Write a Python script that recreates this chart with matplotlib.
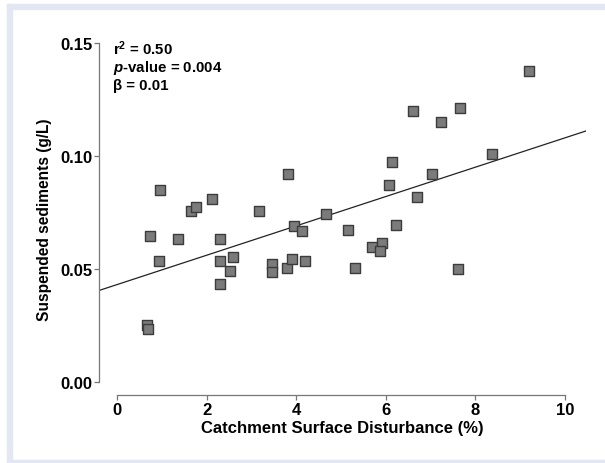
import matplotlib
matplotlib.use('Agg')
from matplotlib import pyplot as plt
from matplotlib.patches import Rectangle

# catchment surface disturbance (%) and suspended sediments (g/L)
disturbance = [9.20, 6.60, 7.66, 7.23, 8.37, 6.14, 3.82, 7.04, 6.08, 6.70,
               0.95, 2.12, 1.65, 1.77, 3.18, 4.66, 3.95, 4.13, 5.16, 6.22,
               0.74, 1.37, 2.31, 5.69, 5.91, 5.88, 0.93, 2.31, 2.59, 2.53,
               3.47, 3.47, 3.80, 3.90, 4.19, 5.32, 7.62, 2.31, 0.67, 0.69]
sediments = [0.1376, 0.1200, 0.1212, 0.1148, 0.1008, 0.0975, 0.0919, 0.0922, 0.0870, 0.0819,
             0.0848, 0.0811, 0.0754, 0.0774, 0.0754, 0.0743, 0.0690, 0.0667, 0.0671, 0.0695,
             0.0644, 0.0634, 0.0634, 0.0596, 0.0615, 0.0579, 0.0535, 0.0535, 0.0551, 0.0491,
             0.0520, 0.0486, 0.0504, 0.0542, 0.0535, 0.0504, 0.0500, 0.0432, 0.0251, 0.0232]

# fitted regression line
intercept = 0.0430
slope = 0.00650

x_ticks = [0, 2, 4, 6, 8, 10]
y_ticks = [0.00, 0.05, 0.10, 0.15]

plt.rcParams['font.family'] = ['Liberation Sans', 'DejaVu Sans']
plt.rcParams['mathtext.fontset'] = 'custom'
plt.rcParams['mathtext.rm'] = 'Liberation Sans:bold'
plt.rcParams['mathtext.it'] = 'Liberation Sans:bold:italic'
plt.rcParams['mathtext.bf'] = 'Liberation Sans:bold'

fig = plt.figure(figsize=(6.05, 4.64), dpi=100)
frame = '#e3e6f3'
fig.patches.append(Rectangle((7 / 605, 0), 5 / 605, 1 - 5 / 464, transform=fig.transFigure,
                             color=frame, zorder=0))
fig.patches.append(Rectangle((7 / 605, 1 - 10 / 464), 1, 5 / 464, transform=fig.transFigure,
                             color=frame, zorder=0))
fig.patches.append(Rectangle((7 / 605, 0), 1, 3 / 464, transform=fig.transFigure,
                             color=frame, zorder=0))

ax = fig.add_axes([99 / 605, 68 / 464, 487 / 605, (395 - 43) / 464])
xmin = -(117 - 99) / 44.8
xmax = xmin + 487 / 44.8
ax.set_xlim(xmin, xmax)
ax.set_ylim(-(395 - 381.7) / 2256, 0.15)

xs = [xmin, xmax]
ax.plot(xs, [intercept + slope * v for v in xs], color='#222222', lw=0.9, zorder=2)
ax.scatter(disturbance, sediments, marker='s', s=58, facecolor='#7b7b7b',
           edgecolor='#3c3c3c', linewidth=1.0, zorder=3, clip_on=False)

for side in ['top', 'right']:
    ax.spines[side].set_visible(False)
ax.spines['left'].set_bounds(0, 0.15)
ax.spines['bottom'].set_bounds(0, 10)
for side in ['left', 'bottom']:
    ax.spines[side].set_color('#777777')
    ax.spines[side].set_linewidth(0.9)

ax.set_xticks(x_ticks)
ax.set_xticklabels([str(t) for t in x_ticks])
ax.set_yticks(y_ticks)
ax.set_yticklabels(['%.2f' % t for t in y_ticks])
ax.tick_params(axis='both', direction='out', length=3.5, width=0.9, color='#777777',
               labelsize=12)
for lab in ax.get_xticklabels() + ax.get_yticklabels():
    lab.set_fontweight('bold')
ax.tick_params(axis='x', pad=1.5)
ax.tick_params(axis='y', pad=1)

ax.set_xlabel('Catchment Surface Disturbance (%)', fontsize=12, fontweight='bold', labelpad=2)
ax.set_ylabel('Suspended sediments (g/L)', fontsize=11.2, fontweight='bold', labelpad=6)

ax.text((113 - 99) / 487, 1 - (48 - 43) / 352,
        '$\\mathregular{r^2}$ = 0.50', transform=ax.transAxes, fontsize=10.8,
        fontweight='bold', va='center')
ax.text((113 - 99) / 487, 1 - (67 - 43) / 352, '$p$-value = 0.004',
        transform=ax.transAxes, fontsize=10.8, fontweight='bold', va='center')
ax.text((113 - 99) / 487, 1 - (85 - 43) / 352, '\u03b2 = 0.01',
        transform=ax.transAxes, fontsize=10.8, fontweight='bold', va='center')

fig.savefig('out.png', dpi=100)
